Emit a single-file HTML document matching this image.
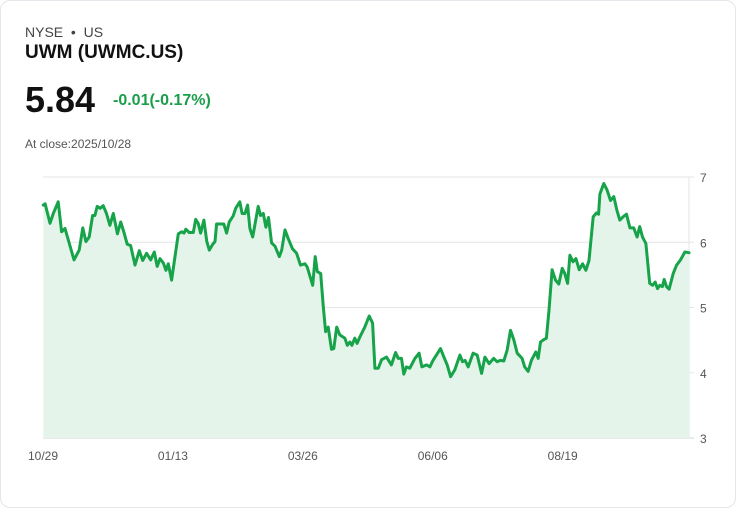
<!DOCTYPE html>
<html><head><meta charset="utf-8"><style>
html,body{margin:0;padding:0;background:#fff;}
body{width:736px;height:508px;position:relative;overflow:hidden;font-family:"Liberation Sans",Arial,sans-serif;}
.card{position:absolute;left:0;top:0;width:734px;height:506px;border:1px solid #e3e6ea;border-radius:10px;}
.t{position:absolute;white-space:nowrap;}
</style></head><body>
<div class="card"></div>
<div class="t" style="left:25px;top:24px;font-size:14px;color:#444;">NYSE &nbsp;•&nbsp; US</div>
<div class="t" style="left:25px;top:42px;font-size:19px;font-weight:bold;color:#111;">UWM (UWMC.US)</div>
<div class="t" style="left:25px;top:79px;font-size:36px;font-weight:bold;color:#111;">5.84</div>
<div class="t" style="left:113px;top:92px;font-size:16px;font-weight:bold;color:#1a9e4a;">-0.01(-0.17%)</div>
<div class="t" style="left:25px;top:137px;font-size:12px;color:#555;">At close:2025/10/28</div>
<svg id="chart" width="736" height="508" style="position:absolute;left:0;top:0"></svg>
<script>
const days=[0.1,0.8,2.7,4.0,5.9,7.2,8.5,10.4,12.0,14.0,15.4,16.6,17.9,19.2,20.1,21.0,22.1,23.3,24.6,25.9,27.2,28.8,30.1,31.3,32.6,33.9,35.6,37.3,38.6,40.1,41.7,43.1,44.2,45.3,46.6,47.6,48.5,49.8,51.1,52.4,53.7,54.6,55.3,56.6,58.2,59.1,60.1,61.0,62.3,63.4,64.4,65.7,66.6,67.2,68.5,70.0,71.1,72.1,73.6,74.6,76.2,77.1,78.2,79.2,80.1,81.2,82.0,83.3,84.2,85.3,86.3,87.3,88.5,89.8,91.5,92.4,93.7,94.9,96.6,98.2,99.7,101.4,102.3,104.4,105.4,106.2,107.5,108.5,109.4,110.4,111.7,112.6,113.7,114.9,116.9,117.8,118.8,119.6,120.7,121.6,122.7,124.6,126.3,127.6,128.5,129.8,131.1,133.0,134.9,136.5,137.5,138.8,139.7,140.7,142.0,144.0,145.6,146.7,148.5,149.8,151.0,152.3,153.9,155.2,156.5,157.8,159.4,161.4,162.4,163.4,164.6,166.5,168.1,169.8,171.1,172.7,174.5,175.8,177.1,178.4,179.7,181.0,182.3,183.6,185.5,186.5,187.8,189.1,190.8,191.7,192.6,193.6,194.9,195.9,197.1,198.4,199.7,201.0,202.0,203.1,204.0,205.2,206.3,207.6,208.9,210.2,211.4,213.0,214.3,215.1,215.6,217.1,218.4,219.7,221.0,222.2,223.3,224.6,225.9,227.2,228.7,230.0,231.0,232.1,233.4,234.9,236.0,237.0,237.9,238.8,239.8,240.5,241.4,242.4,244.0,245.3,246.8,248.5,250.1];
const prices=[6.57,6.59,6.29,6.44,6.62,6.16,6.21,5.95,5.73,5.88,6.22,6.01,6.08,6.41,6.41,6.55,6.52,6.56,6.44,6.26,6.44,6.13,6.31,6.16,5.97,5.95,5.65,5.87,5.72,5.83,5.73,5.85,5.63,5.75,5.68,5.57,5.67,5.42,5.78,6.13,6.16,6.14,6.20,6.15,6.15,6.35,6.29,6.14,6.34,6.01,5.88,5.97,6.01,6.28,6.28,6.28,6.14,6.31,6.40,6.52,6.62,6.44,6.44,6.57,6.21,6.08,6.26,6.55,6.41,6.44,6.23,6.38,5.99,5.94,5.78,5.88,6.19,6.06,5.90,5.83,5.65,5.67,5.62,5.34,5.78,5.55,5.52,5.01,4.63,4.70,4.36,4.37,4.70,4.58,4.53,4.42,4.47,4.42,4.53,4.45,4.55,4.70,4.87,4.76,4.07,4.07,4.20,4.24,4.12,4.31,4.22,4.22,3.98,4.09,4.07,4.22,4.30,4.09,4.12,4.09,4.19,4.27,4.37,4.24,4.12,3.94,4.04,4.27,4.17,4.19,4.09,4.30,4.27,3.99,4.24,4.14,4.22,4.17,4.19,4.18,4.35,4.65,4.50,4.30,4.22,4.09,4.02,4.19,4.32,4.22,4.47,4.50,4.53,4.96,5.58,5.42,5.36,5.60,5.52,5.37,5.80,5.70,5.75,5.58,5.67,5.57,5.72,6.39,6.45,6.43,6.74,6.90,6.80,6.64,6.70,6.49,6.34,6.39,6.43,6.22,6.22,6.08,6.24,6.08,5.98,5.37,5.34,5.39,5.29,5.34,5.32,5.43,5.32,5.28,5.52,5.65,5.73,5.85,5.84];
const yTicks=[3,4,5,6,7];
const xTickDays=[0,50.3,100.6,150.9,201.2];
const xTickLabels=["10/29","01/13","03/26","06/06","08/19"];
const X0=43,X1=689,Y0=438,Y1=177,DMAX=250.1,VMIN=3,VMAX=7;
const xs=d=>X0+(d/DMAX)*(X1-X0);
const ys=v=>Y0-(v-VMIN)/(VMAX-VMIN)*(Y0-Y1);
const svg=document.getElementById('chart');
const NS='http://www.w3.org/2000/svg';
function mk(t,a){const e=document.createElementNS(NS,t);for(const k in a)e.setAttribute(k,a[k]);svg.appendChild(e);return e;}
yTicks.forEach(v=>{
  const l=mk('line',{x1:X0,x2:X1+5,y1:ys(v),y2:ys(v),stroke:v===3?'#d0d4d8':'#e3e5e8','stroke-width':1});
  
  
  const t=mk('text',{x:700,y:ys(v)+5,'font-size':12,fill:'#555','font-family':'Liberation Sans, sans-serif'});
  t.textContent=v;
  
  
});
const ax=mk('line',{x1:X1,x2:X1,y1:Y1,y2:Y0,stroke:'#e3e5e8','stroke-width':1});


xTickDays.forEach((d,i)=>{
  const t=mk('text',{x:xs(d),y:460,'font-size':12,fill:'#555','text-anchor':'middle','font-family':'Liberation Sans, sans-serif'});
  t.textContent=xTickLabels[i];
  
  
});
let pts=days.map((d,i)=>xs(d).toFixed(1)+','+ys(prices[i]).toFixed(1));
const area=mk('path',{d:'M'+xs(days[0])+','+Y0+' L'+pts.join(' L')+' L'+xs(days[days.length-1])+','+Y0+' Z',fill:'#e5f4ea',stroke:'none'});


const line=mk('path',{d:'M'+pts.join(' L'),fill:'none',stroke:'#17a34a','stroke-width':3,'stroke-linejoin':'round','stroke-linecap':'round'});


</script>
</body></html>
